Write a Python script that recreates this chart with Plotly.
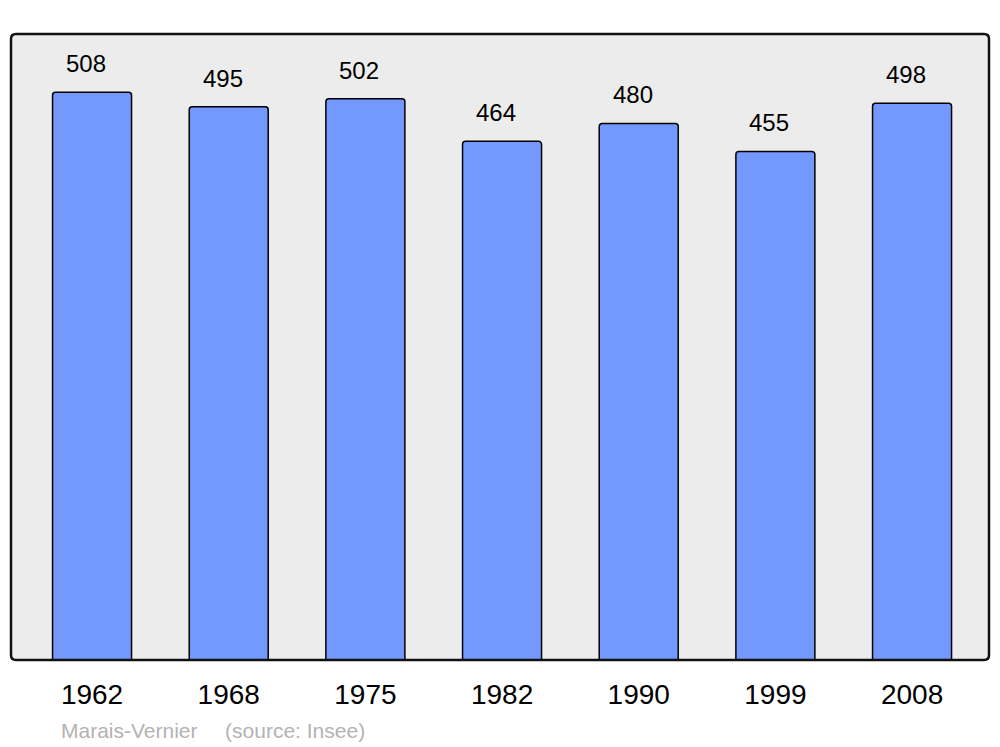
import plotly.graph_objects as go

years = ["1962", "1968", "1975", "1982", "1990", "1999", "2008"]
population = [508, 495, 502, 464, 480, 455, 498]
place = "Marais-Vernier"
source = "(source: Insee)"

# page body has an 8px margin; figure spans 8..992 x 8..747
W, H = 984, 739
L, R, T, B = 3, 3, 26, 87
pw, ph = W - L - R, H - T - B

fig = go.Figure()
fig.add_trace(go.Bar(
    x=list(range(len(years))), y=population,
    width=0.578,
    marker=dict(color="#7399ff", line=dict(color="#000000", width=1.5), cornerradius=3),
    hoverinfo="skip",
))

for i, v in enumerate(population):
    fig.add_annotation(x=i, y=v, text=str(v), showarrow=False,
                       xanchor="center", yanchor="bottom", xshift=-6, yshift=13,
                       font=dict(family="Liberation Sans, Arial, sans-serif", size=24, color="#000"))

fig.add_annotation(xref="paper", yref="paper", x=(59 - 11) / pw, y=-(730 - 660) / ph,
                   text=place + "&nbsp;&nbsp;&nbsp;&nbsp;\u2009" + source, showarrow=False,
                   xanchor="left", yanchor="middle",
                   font=dict(family="Liberation Sans, Arial, sans-serif", size=21, color="#b3b3b3"))

# rounded frame
rx, ry = 5 / pw, 5 / ph
path = (f"M {rx},0 L {1-rx},0 Q 1,0 1,{ry} L 1,{1-ry} Q 1,1 {1-rx},1 "
        f"L {rx},1 Q 0,1 0,{1-ry} L 0,{ry} Q 0,0 {rx},0 Z")
fig.add_shape(type="path", xref="paper", yref="paper", path=path,
              line=dict(color="#111111", width=2.5), layer="above")

fig.update_layout(
    width=W, height=H,
    margin=dict(l=L, r=R, t=T, b=B),
    paper_bgcolor="#ffffff", plot_bgcolor="#ececec",
    showlegend=False,
    xaxis=dict(tickmode="array", tickvals=list(range(len(years))), ticktext=years,
               range=[-0.593, 6.563], showgrid=False, zeroline=False, ticks="",
               ticklabelstandoff=15,
               tickfont=dict(family="Liberation Sans, Arial, sans-serif", size=28, color="#000")),
    yaxis=dict(range=[0, 560], showgrid=False, zeroline=False, showticklabels=False, ticks=""),
)

fig.write_html("out.html")
